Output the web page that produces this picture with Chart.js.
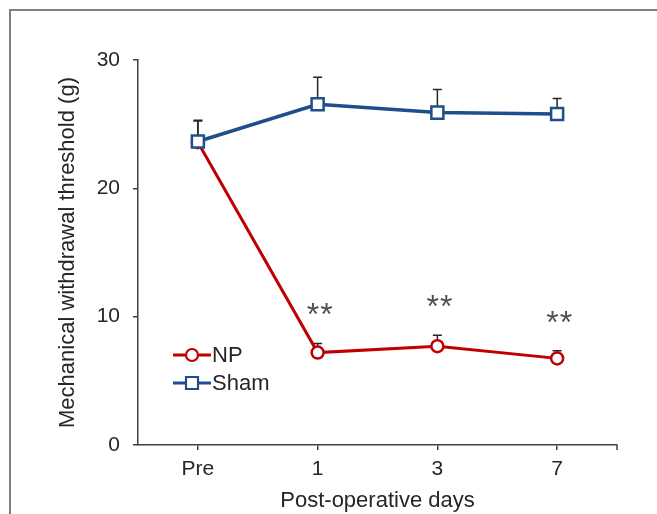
<!DOCTYPE html>
<html>
<head>
<meta charset="utf-8">
<script src="https://cdn.jsdelivr.net/npm/chart.js@4.4.1/dist/chart.umd.min.js"></script>
<style>
  html, body { margin: 0; padding: 0; background: #fff; }
  #wrap { position: relative; width: 657px; height: 514px; overflow: hidden; }
  #frame { position: absolute; left: 9px; top: 9px; width: 660px; height: 520px;
           border-left: 2px solid #7f7f7f; border-top: 2px solid #7f7f7f; box-sizing: border-box; }
  canvas { position: absolute; left: 0; top: 0; }
</style>
</head>
<body>
<div id="wrap">
  <div id="frame"></div>
  <canvas id="c" width="657" height="514"></canvas>
</div>
<script>
const categories = ["Pre", "1", "3", "7"];
const npMean   = [23.6, 7.2, 7.7, 6.75];
const npErr    = [1.7, 0.7, 0.85, 0.6];
const shamMean = [23.65, 26.55, 25.9, 25.8];
const shamErr  = [1.6, 2.1, 1.8, 1.2];
const sigMarks = ["", "**", "**", "**"];
const yTicks   = [0, 10, 20, 30];

const RED = "#c00000";
const BLUE = "#1f4e8c";
const TEXT = "#262626";
const FONT = "'Liberation Sans', Arial, sans-serif";
const FS = 21;
const FT = 22;

const errPlugin = {
  id: "errbars",
  beforeDatasetsDraw(chart) {
    const ctx = chart.ctx;
    const x = chart.scales.x, y = chart.scales.y;
    const sets = [[npMean, npErr], [shamMean, shamErr]];
    ctx.save();
    ctx.strokeStyle = "#262626";
    ctx.lineWidth = 1.5;
    sets.forEach(([m, e]) => {
      m.forEach((v, i) => {
        const px = x.getPixelForValue(i);
        const y0 = y.getPixelForValue(v);
        const y1 = y.getPixelForValue(v + e[i]);
        ctx.beginPath();
        ctx.moveTo(px, y0); ctx.lineTo(px, y1);
        ctx.moveTo(px - 4.5, y1); ctx.lineTo(px + 4.5, y1);
        ctx.stroke();
      });
    });
    ctx.restore();
  },
  afterDraw(chart) {
    const ctx = chart.ctx;
    const x = chart.scales.x, y = chart.scales.y;
    ctx.save();
    // right-end tick of x axis
    ctx.strokeStyle = "#404040";
    ctx.lineWidth = 1.5;
    ctx.beginPath();
    ctx.moveTo(chart.chartArea.right, chart.chartArea.bottom);
    ctx.lineTo(chart.chartArea.right, chart.chartArea.bottom + 5);
    ctx.stroke();
    // significance marks
    ctx.fillStyle = "#505050";
    ctx.font = "32px " + FONT;
    ctx.textAlign = "center";
    ctx.textBaseline = "middle";
    sigMarks.forEach((s, i) => {
      if (!s) return;
      const px = x.getPixelForValue(i) + 2;
      const py = y.getPixelForValue(npMean[i] + npErr[i]) - 27;
      for (let k = 0; k < s.length; k++) {
        ctx.fillText("*", px + (k - (s.length - 1) / 2) * 13.5, py);
      }
    });
    // legend
    const items = [["NP", RED, "circle"], ["Sham", BLUE, "rect"]];
    items.forEach(([lab, col, shape], k) => {
      const ly = 355 + k * 28;
      ctx.strokeStyle = col;
      ctx.lineWidth = 3;
      ctx.beginPath();
      ctx.moveTo(173, ly); ctx.lineTo(211, ly);
      ctx.stroke();
      ctx.fillStyle = "#fff";
      ctx.lineWidth = 2.2;
      ctx.beginPath();
      if (shape === "circle") ctx.arc(192, ly, 6, 0, Math.PI * 2);
      else ctx.rect(186, ly - 6, 12, 12);
      ctx.fill(); ctx.stroke();
      ctx.fillStyle = TEXT;
      ctx.font = FT + "px " + FONT;
      ctx.textAlign = "left";
      ctx.textBaseline = "middle";
      ctx.fillText(lab, 212, ly + 1);
    });
    ctx.restore();
  }
};

new Chart(document.getElementById("c"), {
  type: "line",
  data: {
    labels: categories,
    datasets: [
      { label: "Sham", data: shamMean, borderColor: BLUE, borderWidth: 3.5,
        pointStyle: "rect", pointRadius: 8.5, pointBorderWidth: 2.5,
        pointBackgroundColor: "#fff", pointBorderColor: BLUE, tension: 0, order: 1 },
      { label: "NP", data: npMean, borderColor: RED, borderWidth: 3,
        pointStyle: "circle", pointRadius: 6, pointBorderWidth: 2.5,
        pointBackgroundColor: "#fff", pointBorderColor: RED, tension: 0, order: 2 }
    ]
  },
  options: {
    responsive: false,
    animation: false,
    devicePixelRatio: 1,
    layout: { padding: { left: 55, top: 60, right: 40, bottom: 0 } },
    plugins: { legend: { display: false }, tooltip: { enabled: false } },
    scales: {
      x: {
        offset: true,
        grid: { display: true, drawOnChartArea: false, offset: false, tickLength: 5, color: "#404040", lineWidth: 1.5 },
        border: { display: true, color: "#404040", width: 1.5 },
        ticks: { color: TEXT, font: { size: FS, family: FONT }, padding: 7, maxRotation: 0 },
        title: { display: true, text: "Post-operative days", color: TEXT, font: { size: FT, family: FONT }, padding: { top: 0, bottom: 0 } },
        afterFit(s) { s.height = 69; }
      },
      y: {
        min: 0, max: 30,
        afterBuildTicks(s) { s.ticks = yTicks.map(v => ({ value: v })); },
        grid: { display: true, drawOnChartArea: false, tickLength: 5, color: "#404040", lineWidth: 1.5 },
        border: { display: true, color: "#404040", width: 1.5 },
        ticks: { color: TEXT, font: { size: FS, family: FONT }, padding: 13 },
        title: { display: true, text: "Mechanical withdrawal threshold (g)", color: TEXT, font: { size: FT, family: FONT }, padding: { top: 0, bottom: 0 } },
        afterFit(s) { s.width = 83; }
      }
    }
  },
  plugins: [errPlugin]
});
</script>
</body>
</html>
